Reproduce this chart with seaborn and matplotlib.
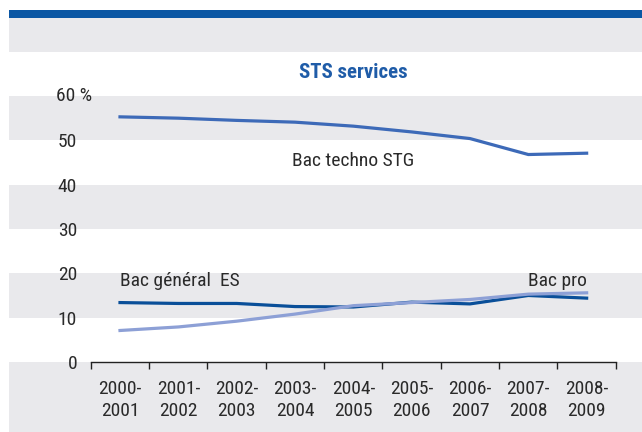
import pandas as pd
import matplotlib.pyplot as plt
import seaborn as sns
import numpy as np
from matplotlib.patches import Rectangle

# donnees (en %)
annees = ['2000-\n2001', '2001-\n2002', '2002-\n2003', '2003-\n2004', '2004-\n2005',
          '2005-\n2006', '2006-\n2007', '2007-\n2008', '2008-\n2009']
bac_techno = [55.3, 55.0, 54.5, 54.1, 53.2, 51.9, 50.4, 46.8, 47.1]
bac_es = [13.4, 13.2, 13.2, 12.5, 12.4, 13.5, 13.1, 15.0, 14.4]
bac_pro = [7.1, 7.9, 9.2, 10.8, 12.7, 13.4, 14.1, 15.3, 15.6]
series = ['Bac techno STG', 'Bac général  ES', 'Bac pro']
couleurs = {'Bac techno STG': '#3d6ab8', 'Bac général  ES': '#0a4f99', 'Bac pro': '#8da0d6'}

dt = pd.DataFrame({
    'annee': annees * 3,
    'part': bac_techno + bac_es + bac_pro,
    'serie': [s for s in series for _ in annees],
})

plt.rcParams['font.family'] = ['Roboto Condensed', 'DejaVu Sans']
plt.rcParams['font.stretch'] = 'condensed'

gris = '#e9e9ec'
fig = plt.figure(figsize=(6.42, 4.32), dpi=100, facecolor='white')
ax = fig.add_axes([9 / 642, 0, 1 - 9 / 642, 414 / 432])
ax.set_facecolor(gris)

# bandeau bleu en haut
fig.add_artist(Rectangle((9 / 642, 1 - 18 / 432), 1, 8 / 432, transform=fig.transFigure,
                         facecolor='#0b57a4', edgecolor='none'))

# bandes blanches
for b in [0, 20, 40, 60]:
    ax.axhspan(b, b + 10, color='white', lw=0, zorder=0)

sns.lineplot(data=dt, x='annee', y='part', hue='serie', palette=couleurs,
             linewidth=2.3, ax=ax, legend=False, sort=False)

ax.set_xlim(-1.903, 8.949)
ax.set_ylim(-15.8, 77.6)
ax.set_xlabel('')
ax.set_ylabel('')

# axe horizontal
for s in ['top', 'right', 'left']:
    ax.spines[s].set_visible(False)
ax.spines['bottom'].set_position(('data', 0))
ax.spines['bottom'].set_bounds(-0.5, 8.5)
ax.spines['bottom'].set_color('#222222')
ax.spines['bottom'].set_linewidth(1.0)
ax.set_xticks(range(len(annees)))
ax.set_xticklabels(annees, fontsize=14, color='#2a2a2a', linespacing=1.25)
ax.set_xticks(np.arange(-0.5, 9, 1), minor=True)
ax.tick_params(axis='x', which='major', length=0, pad=13)
ax.tick_params(axis='x', which='minor', length=5, width=1.0, color='#222222', direction='out')

# axe vertical (seulement les etiquettes)
ax.spines['left'].set_position(('data', -0.737))
ax.set_yticks([0, 10, 20, 30, 40, 50])
ax.set_yticklabels(['0', '10', '20', '30', '40', '50'], fontsize=14, color='#2a2a2a')
ax.tick_params(axis='y', length=0, pad=0)
ax.text(-1.097, 60, '60 %', fontsize=14, color='#2a2a2a', ha='left', va='center')

ax.text(4, 65.4, 'STS services', fontsize=15, fontweight='bold', color='#1f5ca8',
        ha='center', va='center')

ax.text(4, 45.3, 'Bac techno STG', fontsize=14, color='#2a2a2a', ha='center', va='center')
ax.text(0, 18.3, 'Bac général  ES', fontsize=14, color='#2a2a2a', ha='left', va='center')
ax.text(8, 18.3, 'Bac pro', fontsize=14, color='#2a2a2a', ha='right', va='center')

fig.savefig('out.png', dpi=100, facecolor='white')
